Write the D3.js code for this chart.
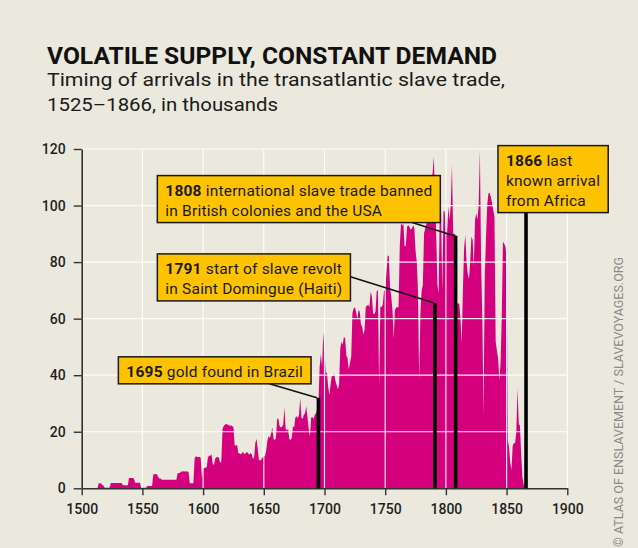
<!DOCTYPE html>
<html>
<head>
<meta charset="utf-8">
<script src="https://cdn.jsdelivr.net/npm/d3@7"></script>
<style>
  html, body { margin: 0; padding: 0; background: #ebe9dd; }
  svg { display: block; }
  text { font-family: Roboto, "Noto Sans", sans-serif; }
</style>
</head>
<body>
<svg id="chart" width="638" height="548"></svg>
<script>
// Yearly arrivals (thousands), one entry per year starting at firstYear
const firstYear = 1501;
const arrivals = [
  0,0,0,0,0,0,0,0,0,0,                                   // 1501-1510
  0,0,0,1.8,1.8,1.7,1.2,0.9,0.2,0.2,                     // 1511-1520
  0.2,0.2,0.3,1.9,1.9,1.9,1.9,1.9,1.9,1.9,               // 1521-1530
  1.9,1.9,1.8,1.1,1.1,1.1,1.1,1.1,3.6,3.6,               // 1531-1540
  3.6,3.6,3.4,2.0,2.0,2.0,2.0,2.0,0.2,0.2,               // 1541-1550
  0.2,0.2,0.2,0.8,0.8,0.8,0.8,0.9,5.0,5.0,               // 1551-1560
  5.1,5.0,4.0,3.5,3.5,3.0,3.0,3.0,3.0,3.0,               // 1561-1570
  3.0,3.0,3.0,3.0,3.0,3.0,3.0,3.0,5.3,5.4,               // 1571-1580
  5.5,5.9,5.9,6.0,5.9,6.0,5.9,5.8,1.8,1.8,               // 1581-1590
  1.8,1.8,10.5,11.3,11.2,11.0,11.2,10.8,3.6,7.0,         // 1591-1600
  7.2,7.3,7.5,11.0,11.5,11.5,12.0,8.5,8.3,10.5,          // 1601-1610
  11.0,11.2,10.8,9.0,9.5,21.0,22.0,22.5,22.8,22.5,       // 1611-1620
  22.5,22.0,22.3,22.0,21.5,15.3,15.0,15.5,12.5,12.3,     // 1621-1630
  12.0,12.5,12.8,12.0,12.4,12.8,12.5,11.8,12.6,12.0,     // 1631-1640
  10.5,10.6,16.0,17.5,14.0,10.0,9.8,10.2,11.0,11.2,      // 1641-1650
  11.4,13.5,17.0,18.5,17.8,19.5,21.5,17.5,17.0,17.8,     // 1651-1660
  24.5,24.7,22.0,21.5,21.8,22.5,28.6,21.0,20.5,21.0,     // 1661-1670
  17.5,17.0,17.8,22.0,21.5,25.0,25.5,24.8,26.0,32.0,     // 1671-1680
  25.0,24.5,26.0,26.5,29.0,25.0,21.0,18.3,25.0,25.2,     // 1681-1690
  24.5,26.0,26.5,28.0,30.0,43.0,47.5,43.0,55.3,48.0,     // 1691-1700
  40.5,41.0,36.0,33.0,36.5,40.0,39.5,40.5,38.0,36.5,     // 1701-1710
  35.0,36.6,49.5,51.8,50.8,53.6,53.0,47.0,46.0,42.0,     // 1711-1720
  44.5,46.5,61.9,63.6,64.0,62.5,59.6,63.0,62.5,58.0,     // 1721-1730
  57.2,54.3,56.0,64.3,64.5,65.0,64.0,69.5,68.0,61.9,     // 1731-1740
  61.5,62.5,69.8,70.0,36.6,64.3,64.0,65.0,69.8,70.1,     // 1741-1750
  75.7,82.3,82.2,71.0,67.8,63.0,53.0,63.0,64.0,64.0,     // 1751-1760
  64.0,85.5,93.7,93.0,93.5,85.5,86.0,92.5,93.0,92.5,     // 1761-1770
  91.4,92.0,93.0,92.0,84.0,80.0,70.0,38.3,62.0,70.0,     // 1771-1780
  72.0,90.2,92.0,93.5,101.9,102.0,104.0,110.8,111.0,117.3, // 1781-1790
  105.0,90.0,72.0,69.0,99.6,98.0,70.0,98.0,98.0,90.0,    // 1791-1800
  90.0,99.6,95.0,100.0,114.3,90.0,90.0,89.6,65.4,65.4,   // 1801-1810
  65.4,60.0,51.4,70.0,85.0,89.6,80.0,76.0,74.0,80.0,     // 1811-1820
  89.0,88.0,78.4,95.0,97.3,95.0,100.0,119.6,80.0,60.0,   // 1821-1830
  26.2,75.0,88.0,100.0,104.3,104.5,103.0,101.0,98.4,96.0,// 1831-1840
  52.0,48.6,46.0,38.4,44.0,60.0,87.2,86.5,85.5,82.0,     // 1841-1850
  17.0,14.7,9.0,6.5,15.0,15.9,16.0,20.0,35.3,23.0,       // 1851-1860
  22.0,12.0,4.0,1.5,0.5,0.3                              // 1861-1866
];

const xTicks = [1500, 1550, 1600, 1650, 1700, 1750, 1800, 1850, 1900];
const yTicks = [0, 20, 40, 60, 80, 100, 120];

// Annotated events: year, text lines (bold lead + rest), height of marker in thousands
const eventYears = [1695, 1791, 1808, 1866];
const eventLines = [
  [["1695", " gold found in Brazil"]],
  [["1791", " start of slave revolt"], ["", "in Saint Domingue (Haiti)"]],
  [["1808", " international slave trade banned"], ["", "in British colonies and the USA"]],
  [["1866", " last"], ["", "known arrival"], ["", "from Africa"]]
];
const eventMarkerTop = [32, 65.6, 89.3, null];

// Callout placement in data units (box top-left corner) and where the leader leaves the box
const calloutLayout = [
  { left: 1530.2, top: 46.5, leader: { side: "bottom", at: 1654.6 } },
  { left: 1562.3, top: 82.9, leader: { side: "right", at: 74.8 } },
  { left: 1562.3, top: 110.6, leader: { side: "bottom", at: 1772.2 } },
  { left: 1842.9, top: 121.2, leader: { side: "under", at: null } }
];

const svg = d3.select("#chart");
const W = 638, H = 548;

svg.append("rect").attr("width", W).attr("height", H).attr("fill", "#ebe9dd");

const x = d3.scaleLinear().domain([1500, 1900]).range([81.7, 567.3]);
const y = d3.scaleLinear().domain([0, 120]).range([488.3, 149]);

// Title block
svg.append("text")
  .attr("x", 47).attr("y", 64)
  .attr("font-size", 24).attr("font-weight", 700).attr("fill", "#111")
  .attr("textLength", 450).attr("lengthAdjust", "spacingAndGlyphs")
  .text("VOLATILE SUPPLY, CONSTANT DEMAND");
svg.append("text")
  .attr("x", 47).attr("y", 86)
  .attr("font-size", 18.5).attr("fill", "#1a1a1a")
  .attr("textLength", 458).attr("lengthAdjust", "spacingAndGlyphs")
  .text("Timing of arrivals in the transatlantic slave trade,");
svg.append("text")
  .attr("x", 47).attr("y", 111)
  .attr("font-size", 18.5).attr("fill", "#1a1a1a")
  .attr("textLength", 231).attr("lengthAdjust", "spacingAndGlyphs")
  .text("1525\u20131866, in thousands");

// Arrivals area
const series = arrivals.map((v, i) => ({ year: firstYear + i, value: v }));
const area = d3.area()
  .x(d => x(d.year))
  .y0(y(0))
  .y1(d => y(d.value));
svg.append("path")
  .datum(series)
  .attr("d", area)
  .attr("fill", "#d5007e");

// Grid drawn over the area
const grid = svg.append("g").attr("stroke", "#ffffff").attr("stroke-width", 1.2).attr("opacity", 0.9);
grid.selectAll("line.h").data(yTicks.filter(d => d > 0)).join("line")
  .attr("class", "h")
  .attr("x1", x(1500)).attr("x2", x(1900))
  .attr("y1", d => y(d)).attr("y2", d => y(d));
grid.selectAll("line.v").data(xTicks.filter(d => d > 1500)).join("line")
  .attr("class", "v")
  .attr("x1", d => x(d)).attr("x2", d => x(d))
  .attr("y1", y(120)).attr("y2", y(0));

// Axes
const xAxis = svg.append("g")
  .attr("transform", `translate(0,${y(0)})`)
  .call(d3.axisBottom(x).tickValues(xTicks).tickFormat(d3.format("d")).tickSize(7).tickSizeOuter(0).tickPadding(9));
const yAxis = svg.append("g")
  .attr("transform", `translate(${x(1500)},0)`)
  .call(d3.axisLeft(y).tickValues(yTicks).tickSize(8).tickSizeOuter(0).tickPadding(8));
[xAxis, yAxis].forEach(g => {
  g.select(".domain").attr("stroke", "#333").attr("stroke-width", 1.6);
  g.selectAll(".tick line").attr("stroke", "#333").attr("stroke-width", 1.4);
  g.selectAll(".tick text")
    .attr("fill", "#1e1e1e")
    .attr("font-size", 14)
    .attr("font-weight", 500)
    .attr("font-family", "Roboto, sans-serif");
});

// Callouts: yellow boxes with a leader to a black marker bar at the event year
const markers = svg.append("g");
const notes = svg.append("g");
eventYears.forEach((year, i) => {
  const lay = calloutLayout[i];
  const bx = x(lay.left), by = y(lay.top);
  const g = notes.append("g");
  const box = g.append("rect");
  const txt = g.append("text")
    .attr("font-size", 15.5).attr("letter-spacing", 0.2).attr("fill", "#1a1a1a");
  eventLines[i].forEach((ln, j) => {
    const ly = by + 20 + j * 20;
    if (ln[0]) {
      txt.append("tspan").attr("x", bx + 8).attr("y", ly).attr("font-weight", 700).text(ln[0]);
      txt.append("tspan").text(ln[1]);
    } else {
      txt.append("tspan").attr("x", bx + 8).attr("y", ly).text(ln[1]);
    }
  });
  const bb = txt.node().getBBox();
  const bw = bb.width + 16;
  const bh = 20 + (eventLines[i].length - 1) * 20 + 7;
  box.attr("x", bx).attr("y", by).attr("width", bw).attr("height", bh)
    .attr("fill", "#fdc300").attr("stroke", "#1a1a1a").attr("stroke-width", 1.5);

  const mx = x(year);
  const markerTop = eventMarkerTop[i] == null ? by + bh : y(eventMarkerTop[i]);
  if (lay.leader.side === "bottom") {
    markers.append("line")
      .attr("x1", x(lay.leader.at)).attr("y1", by + bh)
      .attr("x2", mx - 1.5).attr("y2", markerTop)
      .attr("stroke", "#111").attr("stroke-width", 1.5);
  } else if (lay.leader.side === "right") {
    markers.append("line")
      .attr("x1", bx + bw).attr("y1", y(lay.leader.at))
      .attr("x2", mx - 1.5).attr("y2", markerTop)
      .attr("stroke", "#111").attr("stroke-width", 1.5);
  }
  markers.append("line")
    .attr("x1", mx).attr("x2", mx)
    .attr("y1", markerTop).attr("y2", y(0))
    .attr("stroke", "#000").attr("stroke-width", 3.6);
});

// Credit line along the right edge
svg.append("text")
  .attr("transform", "translate(623,547) rotate(-90)")
  .attr("font-size", 12.5).attr("fill", "#8a8a82")
  .attr("textLength", 290).attr("lengthAdjust", "spacingAndGlyphs")
  .text("\u00A9 ATLAS OF ENSLAVEMENT / SLAVEVOYAGES.ORG");
</script>
</body>
</html>
